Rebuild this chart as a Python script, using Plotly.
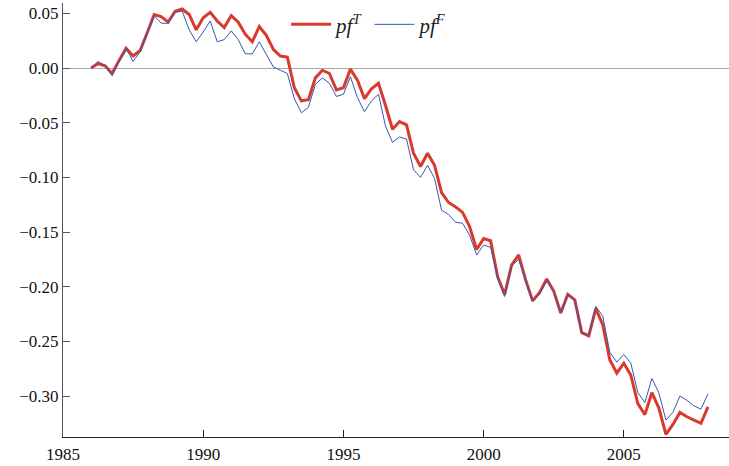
import plotly.graph_objects as go

# Quarterly observations, 1986Q1 .. 2008Q1
start_year = 1986
quarters = [start_year + 0.25 * i for i in range(89)]

pf_T = [
    0.000, 0.004, 0.002, -0.005, 0.007, 0.018, 0.011, 0.016,
    0.032, 0.049, 0.047, 0.042, 0.052, 0.054, 0.049, 0.035,
    0.046, 0.051, 0.043, 0.037, 0.048, 0.042, 0.031, 0.024,
    0.038, 0.030, 0.017, 0.011, 0.010, -0.018, -0.030, -0.029,
    -0.009, -0.002, -0.005, -0.020, -0.018, -0.001, -0.011, -0.028,
    -0.019, -0.014, -0.034, -0.056, -0.049, -0.052, -0.078, -0.090,
    -0.078, -0.089, -0.114, -0.123, -0.127, -0.132, -0.145, -0.166,
    -0.156, -0.158, -0.191, -0.207, -0.180, -0.171, -0.194, -0.213,
    -0.205, -0.193, -0.204, -0.224, -0.207, -0.212, -0.242, -0.245,
    -0.220, -0.235, -0.267, -0.279, -0.270, -0.281, -0.307, -0.317,
    -0.297, -0.311, -0.335, -0.326, -0.315, -0.319, -0.322, -0.325,
    -0.310,
]

pf_F = [
    0.000, 0.006, 0.002, -0.007, 0.006, 0.018, 0.006, 0.015,
    0.032, 0.048, 0.041, 0.041, 0.051, 0.052, 0.035, 0.024,
    0.033, 0.043, 0.024, 0.026, 0.034, 0.026, 0.013, 0.013,
    0.024, 0.013, 0.001, -0.002, -0.005, -0.028, -0.041, -0.036,
    -0.015, -0.009, -0.014, -0.026, -0.024, -0.008, -0.027, -0.040,
    -0.030, -0.024, -0.053, -0.068, -0.063, -0.065, -0.093, -0.100,
    -0.089, -0.101, -0.130, -0.134, -0.141, -0.142, -0.153, -0.171,
    -0.162, -0.164, -0.192, -0.209, -0.181, -0.175, -0.195, -0.213,
    -0.207, -0.194, -0.205, -0.224, -0.207, -0.213, -0.242, -0.244,
    -0.218, -0.227, -0.260, -0.269, -0.262, -0.270, -0.297, -0.306,
    -0.284, -0.297, -0.322, -0.315, -0.300, -0.304, -0.309, -0.312,
    -0.298,
]

serif = "Times New Roman"

fig = go.Figure()
fig.add_trace(go.Scatter(
    x=quarters, y=pf_T, mode="lines",
    name="<i>pf</i><sup><i>T</i></sup>",
    line=dict(color="#d83a2e", width=3),
))
fig.add_trace(go.Scatter(
    x=quarters, y=pf_F, mode="lines",
    name="<i>pf</i><sup><i>F</i></sup>",
    line=dict(color="#3558b0", width=1),
))

fig.update_layout(
    width=729, height=466,
    margin=dict(l=63, r=0, t=3, b=29),
    paper_bgcolor="white", plot_bgcolor="white",
    font=dict(family=serif, size=17, color="#111"),
    showlegend=True,
    legend=dict(
        orientation="h", x=0.335, y=0.95, xanchor="left", yanchor="middle",
        font=dict(family=serif, size=21, color="#222"),
        bgcolor="rgba(0,0,0,0)", itemwidth=40,
    ),
    xaxis=dict(
        range=[1985, 2008.75], tickmode="linear", tick0=1985, dtick=5,
        showgrid=False, zeroline=False,
        showline=True, linecolor="#222", linewidth=1,
        ticks="inside", ticklen=7, tickwidth=1.2, tickcolor="#222",
        ticklabelstandoff=2,
    ),
    yaxis=dict(
        range=[-0.3375, 0.0595], tickmode="linear", tick0=0, dtick=0.05,
        tickformat=".2f",
        showgrid=False,
        zeroline=True, zerolinecolor="#a8a8a8", zerolinewidth=1.3,
        showline=True, linecolor="#555", linewidth=1.2,
        ticks="inside", ticklen=7, tickwidth=1.2, tickcolor="#555",
    ),
)

fig.write_html("out.html")
